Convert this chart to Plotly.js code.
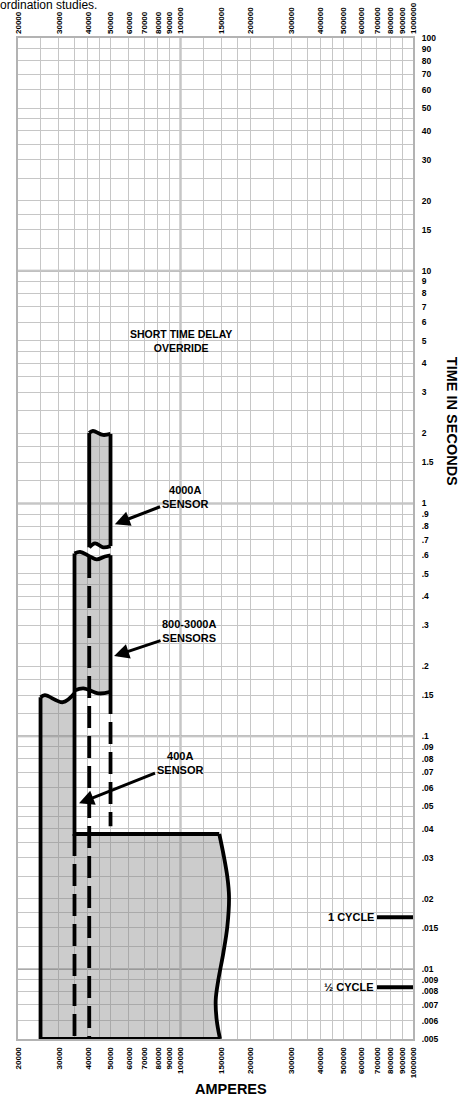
<!DOCTYPE html>
<html><head><meta charset="utf-8">
<script src="https://cdn.plot.ly/plotly-3.0.1.min.js"></script>
<style>html,body{margin:0;padding:0;background:#fff}#chart{width:461px;height:1097px}</style>
</head><body><div id="chart"></div>
<script>
// ---------- axis ticks / labels ----------
const xTickVals = [20000,30000,40000,50000,60000,70000,80000,90000,100000,150000,200000,300000,400000,500000,600000,700000,800000,900000,1000000];
const yTickVals = [100,90,80,70,60,50,40,30,20,15,10,9,8,7,6,5,4,3,2,1.5,1,0.9,0.8,0.7,0.6,0.5,0.4,0.3,0.2,0.15,0.1,0.09,0.08,0.07,0.06,0.05,0.04,0.03,0.02,0.015,0.01,0.009,0.008,0.007,0.006,0.005];
// grid lines of the log paper
const xGrid = [20000,25000,30000,35000,40000,45000,50000,60000,70000,80000,90000,100000,125000,150000,175000,200000,250000,300000,350000,400000,450000,500000,600000,700000,800000,900000,1000000];
const gridMantissa = [1,1.25,1.5,1.75,2,2.5,3,3.5,4,4.5,5,6,7,8,9];
const yDecades = [0.001,0.01,0.1,1,10,100];
const xMajor = [100000];
const yMajor = [10,1,0.1,0.01];

// ---------- curve data (amperes, seconds) ----------
// 4000A sensor band
const s4000TopX = [40500, 42000, 46400, 50000];
const s4000TopY = [2.01, 2.05, 1.97, 1.99];
const s4000BotX = [40500, 42900, 46500, 50000];
const s4000BotY = [0.648, 0.674, 0.648, 0.656];
// 800-3000A sensors band
const s3000TopX = [35000, 37000, 40500, 43600, 47300, 50000];
const s3000TopY = [0.610, 0.620, 0.594, 0.575, 0.592, 0.599];
const s3000BotX = [35000, 38200, 44300, 50000];
const s3000BotY = [0.157, 0.1605, 0.1527, 0.155];
// 400A sensor / lower region
const sLowTopX = [25000, 26100, 31200, 35000];
const sLowTopY = [0.147, 0.150, 0.140, 0.153];
const sLowShelfY = 0.038;
const sLowRightX = [146800, 153800, 159000, 161700, 159000, 152800, 145400, 141700, 143100, 147900];
const sLowRightY = [0.038, 0.0303, 0.0249, 0.0204, 0.0152, 0.0117, 0.00895, 0.00734, 0.00603, 0.005];
const sLowBottomY = 0.005;
const dash50kEndY = 0.041;
// cycle markers
const cycleY = [1/60, 1/120];
const cycleX = [700000, 1000000];
const cycleLabels = ['1 CYCLE', '\u00BD CYCLE'];
const cycleLabelX = 690000;

// annotations
const sensorLabels = ['4000A<br>SENSOR', '800-3000A<br>SENSORS', '400A<br>SENSOR'];
const sensorTipX = [52200, 51800, 36600];
const sensorTipY = [0.815, 0.221, 0.0515];
const sensorTextX = [104600, 108800, 99500];
const sensorTextY = [1.065, 0.283, 0.0766];
const overrideText = 'SHORT TIME DELAY<br>OVERRIDE';
const overrideX = 100000, overrideY = 5;

// ---------- build traces ----------
const L = Math.log10;
const rev = a => a.slice().reverse();
const fillColor = 'rgba(128,128,128,0.40)';
const lw = 3.8;

const fillC = {x: s4000TopX.concat(rev(s4000BotX)), y: s4000TopY.concat(rev(s4000BotY))};
const fillB = {x: s3000TopX.concat(rev(s3000BotX)), y: s3000TopY.concat(rev(s3000BotY))};
const fillA = {
  x: sLowTopX.concat([sLowTopX[sLowTopX.length-1]], sLowRightX, [sLowTopX[0]]),
  y: sLowTopY.concat([sLowShelfY], sLowRightY, [sLowBottomY])
};

const traces = [];
[fillA, fillB, fillC].forEach(f => traces.push({
  type:'scatter', mode:'lines', x:f.x, y:f.y, fill:'toself', fillcolor:fillColor,
  line:{width:0, color:'rgba(0,0,0,0)'}, hoverinfo:'skip'
}));

// straight outlines
const last = a => a[a.length-1];
const solidX = [
  last(sLowRightX), sLowTopX[0], sLowTopX[0], null,
  s3000TopX[0], s3000TopX[0], sLowRightX[0], null,
  s4000TopX[0], s4000BotX[0], null,
  last(s4000TopX), last(s4000BotX), null,
  last(s3000TopX), last(s3000BotX)
];
const solidY = [
  sLowBottomY, sLowBottomY, sLowTopY[0], null,
  s3000TopY[0], sLowShelfY, sLowShelfY, null,
  s4000TopY[0], s4000BotY[0], null,
  last(s4000TopY), last(s4000BotY), null,
  last(s3000TopY), last(s3000BotY)
];
traces.push({type:'scatter', mode:'lines', x:solidX, y:solidY, connectgaps:false,
  line:{color:'#000', width:lw}, hoverinfo:'skip'});

// wavy outlines
[[s4000TopX,s4000TopY],[s4000BotX,s4000BotY],[s3000TopX,s3000TopY],[s3000BotX,s3000BotY],[sLowTopX,sLowTopY],[sLowRightX,sLowRightY]]
.forEach(([xs,ys]) => traces.push({type:'scatter', mode:'lines', x:xs, y:ys,
  line:{color:'#000', width:lw, shape:'spline', smoothing:1}, hoverinfo:'skip'}));

// dashed continuations
const dashX = [s4000TopX[0], s4000TopX[0], null, last(s3000BotX), last(s3000BotX), null, sLowTopX[sLowTopX.length-1], sLowTopX[sLowTopX.length-1]];
const dashY = [s3000TopY[2], sLowBottomY, null, last(s3000BotY), dash50kEndY, null, sLowShelfY, sLowBottomY];
traces.push({type:'scatter', mode:'lines', x:dashX, y:dashY, connectgaps:false,
  line:{color:'#000', width:lw, dash:'22px,8px'}, hoverinfo:'skip'});

// cycle lines
traces.push({type:'scatter', mode:'lines',
  x:[cycleX[0], cycleX[1], null, cycleX[0], cycleX[1]],
  y:[cycleY[0], cycleY[0], null, cycleY[1], cycleY[1]],
  connectgaps:false, line:{color:'#000', width:4}, hoverinfo:'skip'});

// dummy trace for top axis
traces.push({type:'scatter', x:[], y:[], xaxis:'x2', yaxis:'y', hoverinfo:'skip'});

// ---------- layout ----------
const gridColor = '#c6c6c6';
const yGrid = [];
yDecades.forEach(d => gridMantissa.forEach(m => { const v = +(m*d).toPrecision(6); if (v >= 0.005 && v <= 100) yGrid.push(v); }));

const fontFam = 'Liberation Sans, Arial, Helvetica, sans-serif';
const xTickText = xTickVals.map(v => String(v));
const yTickText = yTickVals.map(v => String(v).replace(/^0\./, '.'));
const xRange = [L(20000), L(1000000)];
const yRange = [L(0.005), L(100)];

const shapes = [];
xMajor.forEach(v => shapes.push({type:'line', xref:'x', yref:'paper', x0:v, x1:v, y0:0, y1:1, layer:'between', line:{color:'#ababab', width:2}}));
yMajor.forEach(v => shapes.push({type:'line', xref:'paper', yref:'y', x0:0, x1:1, y0:v, y1:v, layer:'between', line:{color:'#ababab', width:2}}));

const annotations = [];
annotations.push({xref:'x', yref:'y', x:L(overrideX), y:L(overrideY), text:'<b>'+overrideText+'</b>', showarrow:false, font:{size:10.5, color:'#000'}});
sensorLabels.forEach((t,i) => annotations.push({
  xref:'x', yref:'y', x:L(sensorTipX[i]), y:L(sensorTipY[i]),
  axref:'x', ayref:'y', ax:L(sensorTextX[i]), ay:L(sensorTextY[i]),
  text:'<b>'+t+'</b>', showarrow:true, arrowhead:2, arrowsize:1, arrowwidth:3, arrowcolor:'#000',
  standoff:0, font:{size:11, color:'#000'}
}));
cycleLabels.forEach((t,i) => annotations.push({
  xref:'x', yref:'y', x:L(cycleLabelX), y:L(cycleY[i]), xanchor:'right', yanchor:'middle',
  text:'<b>'+t+'</b>', showarrow:false, font:{size:11, color:'#000'}
}));
annotations.push({xref:'paper', yref:'paper', x:0.539, y:-0.05, xanchor:'center', yanchor:'middle', text:'<b>AMPERES</b>', showarrow:false, font:{size:14.5, color:'#000'}});
annotations.push({xref:'paper', yref:'paper', x:1.0975, y:0.617, xanchor:'center', yanchor:'middle', text:'<b>TIME IN SECONDS</b>', textangle:90, showarrow:false, font:{size:14.5, color:'#000'}});
annotations.push({xref:'paper', yref:'paper', x:-0.05, y:1.0325, xanchor:'left', yanchor:'middle', text:'ordination studies.', showarrow:false, font:{size:12, color:'#000'}});

const axCommonX = {type:'log', range:xRange, tickmode:'array', tickvals:xTickVals, ticktext:xTickText,
  tickangle:-90, tickfont:{size:8, weight:'bold', color:'#000'}, ticks:'', zeroline:false, fixedrange:true};

const layout = {
  width:461, height:1097, autosize:false,
  margin:{l:18, r:48, t:38, b:58, pad:0},
  paper_bgcolor:'#fff', plot_bgcolor:'#fff', showlegend:false,
  font:{family:fontFam, color:'#000'},
  xaxis: Object.assign({}, axCommonX, {side:'bottom', showgrid:true, gridcolor:gridColor, gridwidth:1,
    minor:{tickmode:'array', tickvals:xGrid, showgrid:true, gridcolor:gridColor, gridwidth:1, ticks:''},
    showline:true, linecolor:'#b3b3b3', linewidth:2, mirror:true, ticklabelstandoff:3}),
  xaxis2: Object.assign({}, axCommonX, {side:'top', overlaying:'x', anchor:'y', showgrid:false, showline:false, ticklabelstandoff:3}),
  yaxis: {type:'log', side:'right', range:yRange, tickmode:'array', tickvals:yTickVals, ticktext:yTickText,
    tickfont:{size:8.5, weight:'bold', color:'#000'}, ticks:'', ticklabelstandoff:5,
    showgrid:true, gridcolor:gridColor, gridwidth:1,
    minor:{tickmode:'array', tickvals:yGrid, showgrid:true, gridcolor:gridColor, gridwidth:1, ticks:''},
    showline:true, linecolor:'#b3b3b3', linewidth:2, mirror:true, zeroline:false, fixedrange:true},
  shapes: shapes,
  annotations: annotations
};

Plotly.newPlot('chart', traces, layout, {displayModeBar:false, staticPlot:true});
</script>
</body></html>
